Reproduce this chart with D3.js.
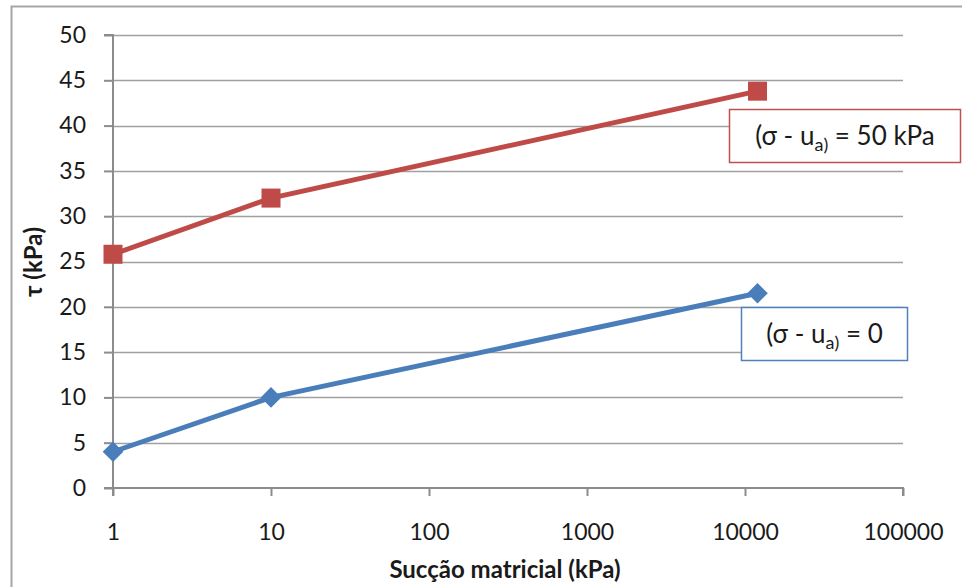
<!DOCTYPE html>
<html><head><meta charset="utf-8">
<script src="https://cdn.jsdelivr.net/npm/d3@7"></script>
<style>body{margin:0;background:#fff;} svg{display:block;} text{font-family:Lato,"Open Sans",sans-serif;}</style>
</head><body>
<svg id="c" width="962" height="587"></svg>
<script>
const suction = [1, 10, 12000];
const tauZero = [4, 10, 21.5];
const tau50 = [25.8, 32, 43.8];
const xTicks = [1, 10, 100, 1000, 10000, 100000];
const yTicks = [0, 5, 10, 15, 20, 25, 30, 35, 40, 45, 50];
const labelZero = "(σ - u", labelSub = "a)";
const svg = d3.select("#c");
const pL = 113, pR = 903, pT = 35, pB = 488;
const x = d3.scaleLog().domain([1, 100000]).range([pL, pR]);
const y = d3.scaleLinear().domain([0, 50]).range([pB, pT]);

// outer frame
svg.append("path").attr("d", `M11.5,${587} V6.5 H962`).attr("fill","none").attr("stroke","#a6a6a6").attr("stroke-width",2);

// grid
svg.append("g").selectAll("line").data(yTicks.filter(d=>d>0)).join("line")
  .attr("x1", pL).attr("x2", pR).attr("y1", d=>Math.round(y(d))+0.5).attr("y2", d=>Math.round(y(d))+0.5)
  .attr("stroke","#a0a0a0").attr("stroke-width",1.5);

const yAxis = svg.append("g").attr("transform",`translate(${pL},0)`)
  .call(d3.axisLeft(y).tickValues(yTicks).tickSize(9).tickPadding(18).tickFormat(d3.format("d")));
const xAxis = svg.append("g").attr("transform",`translate(0,${pB})`)
  .call(d3.axisBottom(x).tickValues(xTicks).tickSize(8).tickPadding(28).tickFormat(d3.format("d")));
[yAxis, xAxis].forEach(a=>{
  a.select(".domain").attr("stroke","#8c8c8c").attr("stroke-width",2);
  a.selectAll(".tick line").attr("stroke","#8c8c8c").attr("stroke-width",2);
  a.selectAll("text").attr("font-size",23).attr("fill","#1a1a1a").style("font-family","Lato,'Open Sans',sans-serif");
});
yAxis.select(".domain").attr("d", `M-9,${pT}H0V${pB}H-9`);
xAxis.select(".domain").attr("d", `M${pL},8V0H${pR}V8`);

const line = d3.line().x(d=>x(d[0])).y(d=>y(d[1]));
const blueData = suction.map((s,i)=>[s, tauZero[i]]);
const redData = suction.map((s,i)=>[s, tau50[i]]);
svg.append("path").datum(blueData).attr("d", line).attr("fill","none").attr("stroke","#4a7ebb").attr("stroke-width",5);
svg.append("path").datum(redData).attr("d", line).attr("fill","none").attr("stroke","#be4b48").attr("stroke-width",5);
svg.append("g").selectAll("path").data(blueData).join("path")
  .attr("d", d3.symbol(d3.symbolDiamond2, 270)).attr("transform", d=>`translate(${x(d[0])},${y(d[1])})`).attr("fill","#4a7ebb");
svg.append("g").selectAll("rect").data(redData).join("rect")
  .attr("x", d=>x(d[0])-9.5).attr("y", d=>y(d[1])-9.5).attr("width",19).attr("height",19).attr("fill","#be4b48");

// label boxes
function labelBox(bx, by, bw, bh, stroke, tail) {
  svg.append("rect").attr("x",bx).attr("y",by).attr("width",bw).attr("height",bh)
    .attr("fill","#fff").attr("stroke",stroke).attr("stroke-width",1.5);
  const t = svg.append("text").attr("x", bx+bw/2).attr("y", by+bh/2+9).attr("text-anchor","middle")
    .attr("font-size",26).attr("fill","#1a1a1a");
  t.append("tspan").text(labelZero);
  t.append("tspan").attr("font-size",18).attr("dy",6).text(labelSub);
  t.append("tspan").attr("dy",-6).text(tail);
}
labelBox(729.5, 109.5, 231, 53, "#c0504d", " = 50 kPa");
labelBox(741.5, 307.5, 166, 53, "#4f81bd", " = 0");

// axis titles
svg.append("text").attr("x", 505).attr("y", 578).attr("text-anchor","middle").attr("font-size",24)
  .attr("font-weight","bold").attr("fill","#1a1a1a").text("Sucção matricial (kPa)");
svg.append("text").attr("transform","translate(42,262) rotate(-90)").attr("text-anchor","middle").attr("font-size",24)
  .attr("font-weight","bold").attr("fill","#1a1a1a").text("τ (kPa)");
</script>
</body></html>
